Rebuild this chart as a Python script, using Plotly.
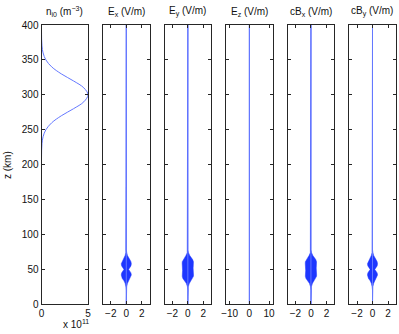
import plotly.graph_objects as go

# ---------------- data ----------------
# ion density profile n_i0 (m^-3) vs altitude z (km)
z_n = [0, 150, 200, 210, 220, 230, 240, 250, 260, 270, 280, 290, 300,
       310, 320, 330, 340, 350, 360, 370, 380, 390, 400]
n_i0 = [0, 0, 0, 0.002e11, 0.012e11, 0.05e11, 0.17e11, 0.47e11, 1.10e11, 2.13e11,
        3.43e11, 4.55e11, 5.00e11, 4.55e11, 3.43e11, 2.13e11, 1.10e11, 0.47e11,
        0.17e11, 0.05e11, 0.012e11, 0.002e11, 0]

# field envelopes (V/m) of the wave packet vs altitude z (km)
z_env = [0, 20, 25, 30, 34, 37, 40, 42, 45, 48, 50, 52, 55, 58, 61, 64, 67, 70, 74, 78, 400]
Ex_env = [0, 0, 0.05, 0.15, 0.32, 0.52, 0.63, 0.65, 0.6, 0.42, 0.3, 0.42, 0.6, 0.65, 0.6, 0.45, 0.28, 0.15, 0.06, 0, 0]
Ey_env = [0, 0, 0.05, 0.2, 0.45, 0.64, 0.72, 0.73, 0.7, 0.68, 0.68, 0.68, 0.7, 0.73, 0.72, 0.62, 0.42, 0.24, 0.08, 0, 0]
Ez_env = [0] * len(z_env)
cBx_env = [0, 0, 0.05, 0.2, 0.45, 0.64, 0.72, 0.73, 0.7, 0.68, 0.68, 0.68, 0.7, 0.73, 0.72, 0.62, 0.42, 0.24, 0.08, 0, 0]
cBy_env = [0, 0, 0.05, 0.15, 0.32, 0.52, 0.63, 0.65, 0.6, 0.42, 0.3, 0.42, 0.6, 0.65, 0.6, 0.45, 0.28, 0.15, 0.06, 0, 0]

titles = ["n<sub>i0</sub> (m<sup>−3</sup>)", "E<sub>x</sub> (V/m)", "E<sub>y</sub> (V/m)",
          "E<sub>z</sub> (V/m)", "cB<sub>x</sub> (V/m)", "cB<sub>y</sub> (V/m)"]
field_envs = [Ex_env, Ey_env, Ez_env, cBx_env, cBy_env]
field_ranges = [[-3, 3], [-3, 3], [-11.8, 11.8], [-3, 3], [-3, 3]]
field_ticks = [[-2, 0, 2], [-2, 0, 2], [-10, 0, 10], [-2, 0, 2], [-2, 0, 2]]
y_ticks = [0, 50, 100, 150, 200, 250, 300, 350, 400]

# ---------------- layout helpers ----------------
W, H = 399, 334
left0, pw, step = 41.5, 46.5, 61.55
top_px, bot_px = 25, 304.3
ydom = [(H - bot_px) / H, (H - top_px) / H]

LINE = "rgb(100,120,255)"
FILL = "rgb(30,55,255)"
AX = "#262626"
FONT = dict(family="Liberation Sans, Arial, sans-serif", size=10, color="#111")

fig = go.Figure()
annotations = []

for i in range(6):
    xa = "x" if i == 0 else f"x{i+1}"
    ya = "y" if i == 0 else f"y{i+1}"
    x0 = (left0 + i * step) / W
    x1 = (left0 + i * step + pw) / W
    if i == 0:
        fig.add_trace(go.Scatter(x=n_i0, y=z_n, mode="lines", line=dict(color=LINE, width=1, shape="spline"),
                                 xaxis=xa, yaxis=ya, showlegend=False, hoverinfo="skip"))
        xr, xt, xtt = [0, 5e11], [0, 5e11], ["0", "5"]
    else:
        env = field_envs[i - 1]
        px = list(env) + [-a for a in env[::-1]]
        pz = list(z_env) + list(z_env[::-1])
        fig.add_trace(go.Scatter(x=px, y=pz, mode="lines", fill="toself", fillcolor=FILL,
                                 line=dict(color=FILL, width=0.5), xaxis=xa, yaxis=ya,
                                 showlegend=False, hoverinfo="skip"))
        fig.add_trace(go.Scatter(x=[0, 0], y=[0, 400], mode="lines", line=dict(color=LINE, width=1),
                                 xaxis=xa, yaxis=ya, showlegend=False, hoverinfo="skip"))
        xr, xt = field_ranges[i - 1], field_ticks[i - 1]
        xtt = [("−" + str(-t)) if t < 0 else str(t) for t in xt]
    fig.layout[("xaxis" if i == 0 else f"xaxis{i+1}")] = dict(
        domain=[x0, x1], anchor=ya, range=xr, tickvals=xt, ticktext=xtt,
        ticks="inside", ticklen=3, tickcolor=AX, showline=True, linecolor=AX, linewidth=1,
        mirror="ticks", showgrid=False, zeroline=False, tickfont=FONT, automargin=False)
    fig.layout[("yaxis" if i == 0 else f"yaxis{i+1}")] = dict(
        domain=ydom, anchor=xa, range=[0, 400], tickvals=y_ticks,
        showticklabels=(i == 0), ticks="inside", ticklen=3, tickcolor=AX,
        showline=True, linecolor=AX, linewidth=1, mirror="ticks", showgrid=False,
        zeroline=False, tickfont=FONT, automargin=False)
    annotations.append(dict(text=titles[i], x=(x0 + x1) / 2, y=(H - 12) / H, xref="paper", yref="paper",
                            showarrow=False, xanchor="center", yanchor="middle", font=FONT))

annotations.append(dict(text="z (km)", x=8 / W, y=(H - 165) / H, xref="paper", yref="paper",
                        showarrow=False, textangle=-90, xanchor="center", yanchor="middle", font=FONT))
annotations.append(dict(text="x 10<sup>11</sup>", x=76 / W, y=(H - 323.5) / H, xref="paper", yref="paper",
                        showarrow=False, xanchor="center", yanchor="middle", font=FONT))

fig.update_layout(width=W, height=H, margin=dict(l=0, r=0, t=0, b=0), paper_bgcolor="white",
                  plot_bgcolor="white", annotations=annotations, font=FONT)
fig.write_html("out.html", config={"displayModeBar": False},
               post_script="document.body.style.margin='0';document.body.style.overflow='hidden';")
